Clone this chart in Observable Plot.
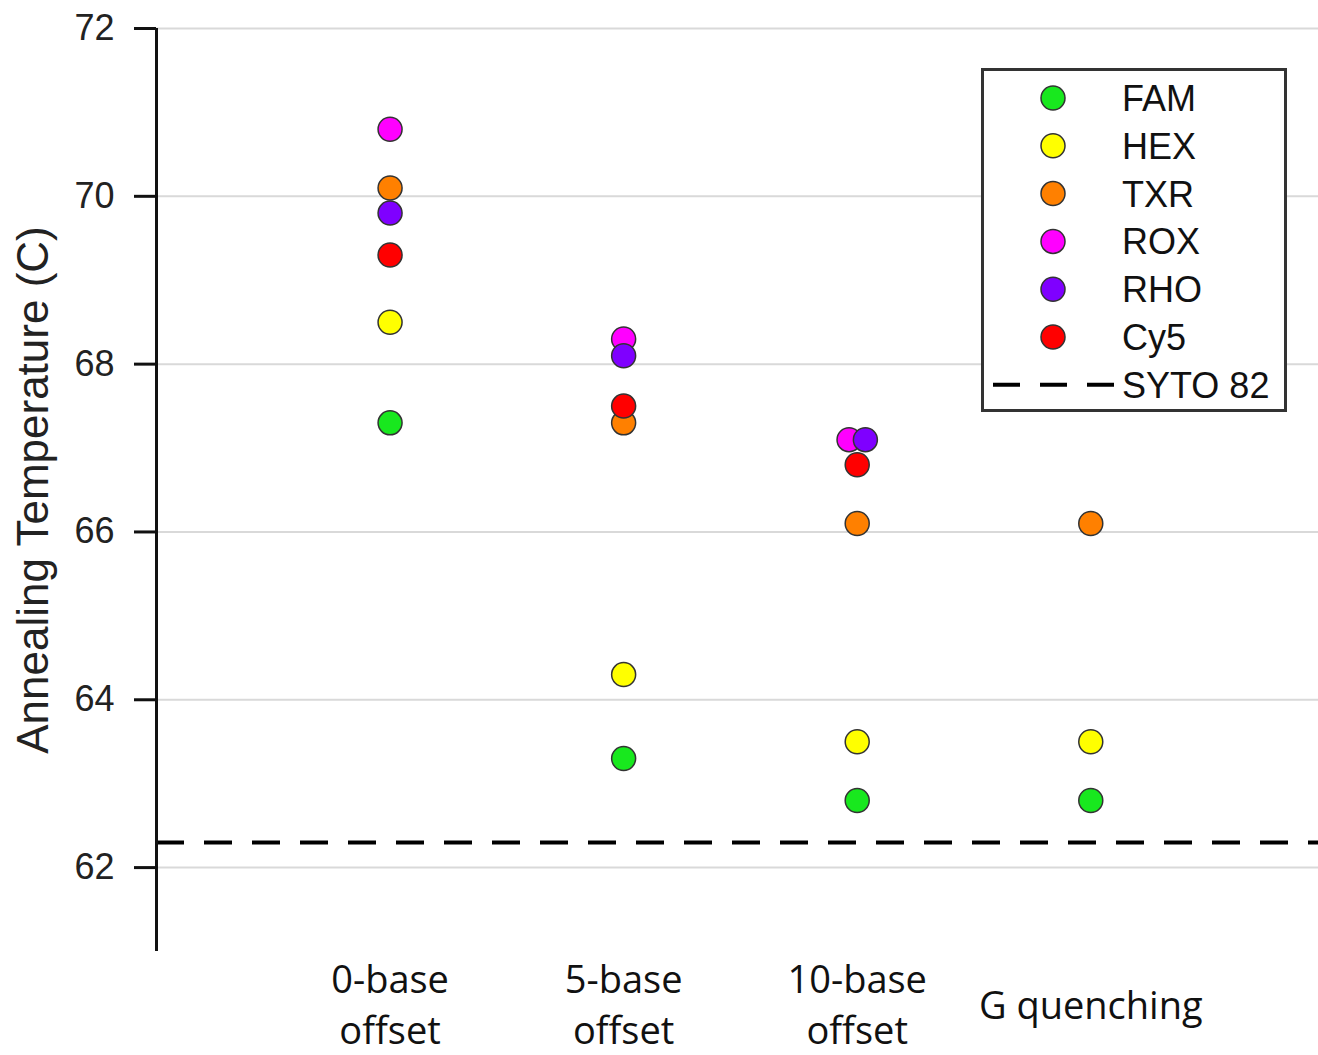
<!DOCTYPE html>
<html><head><meta charset="utf-8">
<script src="https://cdn.jsdelivr.net/npm/d3@7"></script>
<script src="https://cdn.jsdelivr.net/npm/@observablehq/plot@0.6"></script>
<style>
body{margin:0;background:#fff;}
#wrap{position:relative;width:1318px;height:1055px;}
#legend{position:absolute;left:981px;top:68px;}
</style></head><body><div id="wrap"></div>
<script>
const categories = ["0-base\noffset", "5-base\noffset", "10-base\noffset", "G quenching"];
const dyes = ["FAM", "HEX", "TXR", "ROX", "RHO", "Cy5"];
const dyeColors = ["#18e81e", "#ffff00", "#ff8000", "#ff00ff", "#7f00ff", "#ff0000"];
const FAM = [67.3, 63.3, 62.8, 62.8];
const HEX = [68.5, 64.3, 63.5, 63.5];
const TXR = [70.1, 67.3, 66.1, 66.1];
const ROX = [70.8, 68.3, 67.1, null];
const RHO = [69.8, 68.1, 67.1, null];
const Cy5 = [69.3, 67.5, 66.8, null];
const seriesValues = [FAM, HEX, TXR, ROX, RHO, Cy5];
const syto82 = 62.3;
const yTicks = [62, 64, 66, 68, 70, 72];
const yLabel = "Annealing Temperature (C)";
const syto82Label = "SYTO 82";

// build rows
const rows = [];
dyes.forEach((d, j) => {
  seriesValues[j].forEach((v, i) => {
    if (v != null) rows.push({dye: d, color: dyeColors[j], cat: i, value: v});
  });
});
// nudge identical values within a category apart so both are visible
const groups = d3.group(rows, r => r.cat + "|" + r.value);
for (const g of groups.values()) {
  g.forEach((r, k) => { r.nudge = (k - (g.length - 1) / 2) * 0.07; });
}
rows.forEach(r => { r.x = r.cat + 1 + r.nudge; });

const catRows = categories.map((c, i) => ({label: c, x: i + 1}));
const ARIAL = "Liberation Sans, Arial, sans-serif";
const xMax = 4.975;

const chart = Plot.plot({
  width: 1318,
  height: 1055,
  marginLeft: 156,
  marginRight: 0,
  marginTop: 28,
  marginBottom: 104,
  x: {domain: [0, xMax], axis: null},
  y: {domain: [61, 72], axis: null},
  style: {background: "#fff"},
  marks: [
    Plot.gridY(yTicks, {stroke: "#d9d9d9", strokeOpacity: 1, strokeWidth: 2}),
    Plot.ruleY([syto82], {x1: 0, x2: xMax, stroke: "#000", strokeWidth: 4, strokeDasharray: "28,20"}),
    Plot.ruleX([0], {y1: 61, y2: 72, stroke: "#111", strokeWidth: 3}),
    Plot.axisY(yTicks, {tickSize: 22, tickPadding: 20, fontSize: 36, stroke: "#111", strokeWidth: 3,
      tickFormat: d => String(d), fontFamily: ARIAL, fill: "#222", label: null}),
    Plot.text([yLabel], {frameAnchor: "left", textAnchor: "middle", lineAnchor: "middle", rotate: -90, dx: -123,
      fontSize: 44, fontFamily: ARIAL, fill: "#222"}),
    Plot.text(catRows, {x: "x", text: "label", frameAnchor: "bottom", lineAnchor: "middle", dy: 51,
      lineHeight: 1.32, fontSize: 38, fontFamily: "Open Sans, sans-serif", fill: "#111"}),
    Plot.dot(rows, {x: "x", y: "value", r: 12, fill: "color", stroke: "#333", strokeWidth: 1.5})
  ]
});

const wrap = document.getElementById("wrap");
wrap.appendChild(chart);

// legend
const lg = d3.create("svg").attr("id", "legend").attr("width", 306).attr("height", 345);
lg.append("rect").attr("x", 1.5).attr("y", 1.5).attr("width", 303).attr("height", 341)
  .attr("fill", "#fff").attr("stroke", "#333").attr("stroke-width", 3);
dyes.forEach((d, i) => {
  const y = 30 + i * 47.8;
  lg.append("circle").attr("cx", 72).attr("cy", y).attr("r", 12)
    .attr("fill", dyeColors[i]).attr("stroke", "#333").attr("stroke-width", 1.5);
  lg.append("text").attr("x", 141).attr("y", y).attr("dy", "0.36em")
    .attr("font-family", ARIAL).attr("font-size", 36)
    .attr("fill", "#111").text(d);
});
const ly = 30 + 6 * 47.8;
lg.append("line").attr("x1", 12).attr("x2", 137).attr("y1", ly).attr("y2", ly)
  .attr("stroke", "#000").attr("stroke-width", 4).attr("stroke-dasharray", "27,20");
lg.append("text").attr("x", 141).attr("y", ly).attr("dy", "0.36em")
  .attr("font-family", ARIAL).attr("font-size", 36)
  .attr("fill", "#111").text(syto82Label);
wrap.appendChild(lg.node());
</script></body></html>
